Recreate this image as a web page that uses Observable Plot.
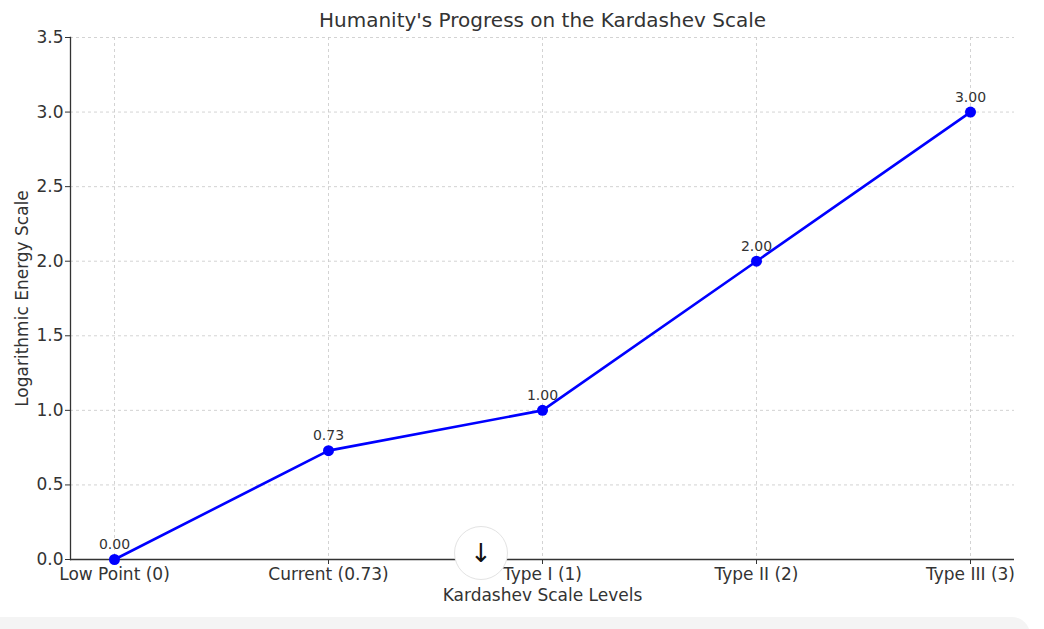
<!DOCTYPE html>
<html>
<head>
<meta charset="utf-8">
<script src="https://cdn.jsdelivr.net/npm/d3@7"></script>
<script src="https://cdn.jsdelivr.net/npm/@observablehq/plot@0.6"></script>
<style>
  html, body { margin: 0; padding: 0; background: #fff; }
  #wrap { position: relative; width: 1044px; height: 629px; overflow: hidden; }
  #bar { position: absolute; left: 0; top: 617px; width: 1030px; height: 30px; background: #f4f4f4; border-top-right-radius: 18px; }
  #btn { position: absolute; left: 454px; top: 526px; width: 52px; height: 52px; border-radius: 50%; background: #fff; border: 1px solid #e3e3e3; display: flex; align-items: center; justify-content: center; font-family: "DejaVu Sans", sans-serif; font-size: 26px; color: #111; }
</style>
</head>
<body>
<div id="wrap"><div id="chart"></div><div id="bar"></div><div id="btn">↓</div></div>
<script>
const levels = ["Low Point (0)", "Current (0.73)", "Type I (1)", "Type II (2)", "Type III (3)"];
const energy = [0.00, 0.73, 1.00, 2.00, 3.00];
const yTicks = [0, 0.5, 1.0, 1.5, 2.0, 2.5, 3.0, 3.5];
const titleText = "Humanity's Progress on the Kardashev Scale";
const xLabel = "Kardashev Scale Levels";
const yLabel = "Logarithmic Energy Scale";

const data = levels.map((l, i) => ({level: l, value: energy[i]}));
const fmt1 = d3.format(".1f");
const fmt2 = d3.format(".2f");

const chart = Plot.plot({
  width: 1044,
  height: 629,
  marginLeft: 70,
  marginRight: 30,
  marginTop: 37,
  marginBottom: 70,
  style: {fontFamily: "DejaVu Sans, sans-serif", fontSize: "17px", color: "#333", background: "transparent"},
  x: {type: "point", domain: levels, padding: 0.2},
  y: {domain: [0, 3.5]},
  marks: [
    Plot.gridX({stroke: "#c8c8c8", strokeOpacity: 1, strokeDasharray: "3,3", strokeWidth: 0.8}),
    Plot.gridY(yTicks, {stroke: "#c8c8c8", strokeOpacity: 1, strokeDasharray: "3,3", strokeWidth: 0.8}),
    Plot.axisX({tickSize: 5, tickPadding: 3, label: null, fontSize: 17, fill: "#333", stroke: "#333"}),
    Plot.axisY({ticks: yTicks, tickFormat: fmt1, tickSize: 5, tickPadding: 2, label: null, fontSize: 17, fill: "#333", stroke: "#333"}),
    Plot.frame({anchor: "left", stroke: "#333", strokeWidth: 1.3}),
    Plot.ruleY([0], {stroke: "#333", strokeWidth: 1.3}),
    Plot.line(data, {x: "level", y: "value", stroke: "#0000ff", strokeWidth: 2.6}),
    Plot.dot(data, {x: "level", y: "value", fill: "#0000ff", r: 5.5}),
    Plot.text(data, {x: "level", y: "value", text: d => fmt2(d.value), dy: -15, fontSize: 14, fill: "#333"}),
    Plot.text([titleText], {frameAnchor: "top", lineAnchor: "middle", dy: -17, fontSize: 20, fill: "#333"}),
    Plot.text([xLabel], {frameAnchor: "bottom", lineAnchor: "middle", dy: 36, fontSize: 17, fill: "#333"}),
    Plot.text([yLabel], {frameAnchor: "left", textAnchor: "middle", lineAnchor: "middle", dx: -48, rotate: -90, fontSize: 17, fill: "#333"})
  ]
});
document.getElementById("chart").appendChild(chart);
</script>
</body>
</html>
